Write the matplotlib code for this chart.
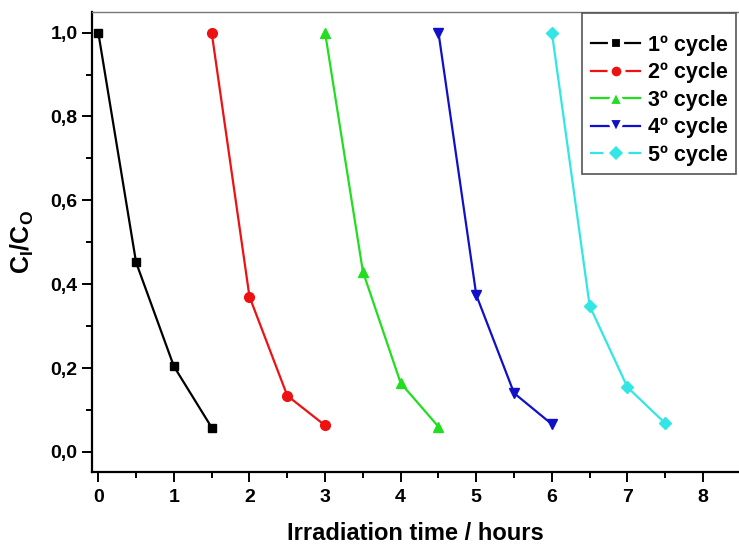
import matplotlib
matplotlib.use("Agg")
import matplotlib.pyplot as plt
from matplotlib.lines import Line2D
from matplotlib.ticker import MultipleLocator, FuncFormatter

plt.rcParams['font.family'] = ['Liberation Sans', 'DejaVu Sans']
plt.rcParams['font.weight'] = 'bold'
plt.rcParams['mathtext.fontset'] = 'custom'
plt.rcParams['mathtext.rm'] = 'Liberation Sans:bold'
plt.rcParams['mathtext.it'] = 'Liberation Sans:bold'
plt.rcParams['mathtext.bf'] = 'Liberation Sans:bold'

# Data
cycle_labels = ["1º cycle", "2º cycle", "3º cycle", "4º cycle", "5º cycle"]
x1 = [0.0, 0.5, 1.0, 1.5]
y1 = [1.0, 0.452, 0.204, 0.058]
x2 = [1.5, 2.0, 2.5, 3.0]
y2 = [1.0, 0.370, 0.134, 0.063]
x3 = [3.0, 3.5, 4.0, 4.5]
y3 = [1.0, 0.430, 0.164, 0.060]
x4 = [4.5, 5.0, 5.5, 6.0]
y4 = [1.0, 0.374, 0.140, 0.066]
x5 = [6.0, 6.5, 7.0, 7.5]
y5 = [1.0, 0.348, 0.154, 0.068]

xs = [x1, x2, x3, x4, x5]
ys = [y1, y2, y3, y4, y5]
colors = ['#000000', '#ee1111', '#22dd22', '#1010c8', '#33e6e6']
markers = ['s', 'o', '^', 'v', 'D']
msizes = [6, 7, 7.5, 7.5, 6.5]
leg_msizes = [9, 10, 12, 12, 10]

fig = plt.figure(figsize=(7.39, 5.51), dpi=100)
ax = fig.add_axes([0.1245, 0.1434, 0.8755, 0.834])

for x, y, c, m, ms in zip(xs, ys, colors, markers, msizes):
    ax.plot(x, y, color=c, lw=1.6, marker=m, markersize=ms,
            markerfacecolor=c, markeredgecolor=c)

ax.set_xlim(-0.083, 8.475)
ax.set_ylim(-0.048, 1.048)

ax.xaxis.set_major_locator(MultipleLocator(1))
ax.xaxis.set_minor_locator(MultipleLocator(0.5))
ax.yaxis.set_major_locator(MultipleLocator(0.2))
ax.yaxis.set_minor_locator(MultipleLocator(0.1))
ax.yaxis.set_major_formatter(FuncFormatter(lambda v, p: f"{v:.1f}".replace('.', ',')))

ax.tick_params(which='major', direction='out', length=7, width=1.4,
               labelsize=14, top=False, right=False)
ax.tick_params(which='minor', direction='out', length=4, width=1.4,
               top=False, right=False)
ax.tick_params(axis='x', which='major', pad=5)
for lab in ax.get_xticklabels() + ax.get_yticklabels():
    lab.set_fontweight('bold')

ax.spines['left'].set_linewidth(1.6)
ax.spines['bottom'].set_linewidth(1.6)
ax.spines['top'].set_linewidth(1.0)
ax.spines['top'].set_color('#777777')
ax.spines['right'].set_visible(False)

ax.set_xlabel('Irradiation time / hours', fontsize=17, fontweight='bold', labelpad=12)
ax.set_ylabel(r'$\mathrm{C_I/C_O}$', fontsize=18, labelpad=10)

handles = [Line2D([0], [0], color=c, lw=1.6, marker=m, markersize=ms,
                  markerfacecolor=c, markeredgecolor='white', markeredgewidth=3.0)
           for c, m, ms in zip(colors, markers, leg_msizes)]
leg = ax.legend(handles, cycle_labels, loc='upper right',
                bbox_to_anchor=(0.996, 0.977), bbox_transform=fig.transFigure,
                prop={'size': 15.5, 'weight': 'bold'}, fancybox=False,
                framealpha=1, edgecolor='#555555', handlelength=2.3,
                handletextpad=0.33, borderpad=0.4, labelspacing=0.3,
                borderaxespad=0, title=' ', title_fontsize=5)
leg.get_frame().set_linewidth(1.2)

fig.savefig('out.png', dpi=100)
